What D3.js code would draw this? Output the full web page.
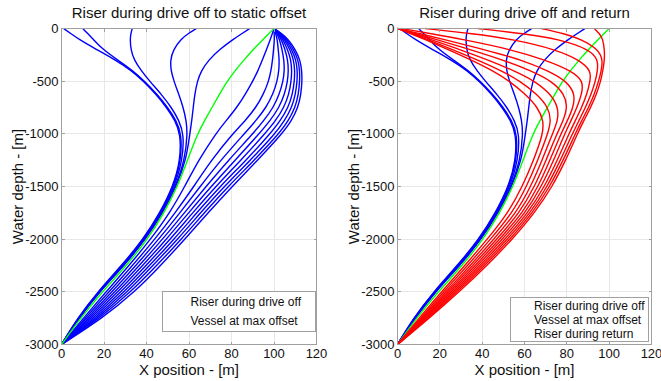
<!DOCTYPE html>
<html>
<head>
<meta charset="utf-8">
<script src="https://cdn.jsdelivr.net/npm/d3@7"></script>
<style>
  body { margin: 0; background: #fff; }
  svg { display: block; font-family: "Liberation Sans", Arial, sans-serif; }
  .grid line { stroke: #e8e8e8; stroke-width: 1; shape-rendering: crispEdges; }
  .frame { fill: none; stroke: #a0a0a0; stroke-width: 1; shape-rendering: crispEdges; }
  .tick-label { font-size: 13px; fill: #111; }
  .axis-title { font-size: 15px; fill: #111; }
  .plot-title { font-size: 15px; fill: #111; }
  .legend-text { font-size: 12px; fill: #111; }
</style>
</head>
<body>
<div id="chart"></div>
<script>
const depths = [0, -50, -100, -200, -300, -400, -500, -625, -750, -875, -1000, -1250, -1500, -1750, -2000, -2250, -2500, -2750, -3000];

// riser during drive off, early stages (vessel still moving)
const driveOffEarly = [
  [1, 4.5, 8, 16.5, 25.5, 33, 38.5, 44.5, 49.5, 53.5, 56, 56, 52.5, 46.3, 38.5, 28.3, 17, 7.5, 0],
  [10, 12.5, 14.8, 19.5, 26.5, 33.5, 39, 45, 50, 54, 56.5, 56.3, 52.8, 46.6, 38.8, 28.6, 17.2, 7.7, 0],
  [33.3, 32.6, 32.3, 32.6, 34.2, 37.5, 41.5, 47, 51.8, 55.3, 57.6, 57, 53.2, 46.9, 39.1, 28.9, 17.4, 7.9, 0],
  [63.5, 59.5, 56.2, 52.6, 51.2, 51.5, 52.9, 55.2, 57.3, 58.7, 59.3, 58, 53.7, 47.3, 39.4, 29.2, 17.6, 8.1, 0],
  [88.6, 84.8, 81, 74.3, 69.2, 65.8, 63.9, 62.7, 62, 61.3, 60.4, 58.6, 54.1, 47.6, 39.7, 29.5, 17.9, 8.3, 0]
];

// vessel reaching max offset
const vesselMaxOffset = [100, 97.5, 95, 90.2, 85.8, 81.7, 78, 74.3, 70.8, 67.3, 64, 59.3, 54.6, 48.3, 40.6, 30.6, 19.2, 9, 0];

// riser during drive off, vessel held at static offset
const driveOffStatic = [
  [100, 99.2, 98.3, 96.5, 94.5, 92.5, 90, 86.5, 82.5, 77.5, 72.5, 64.5, 58, 51, 42, 31.8, 21, 10.3, 0],
  [100, 100.1, 100.2, 99.8, 99.3, 98.6, 97.5, 95, 91.5, 86.5, 80.5, 70.5, 62.3, 53.5, 44, 33.4, 22.4, 11.2, 0],
  [100, 100.8, 101.5, 102, 102.5, 102.3, 101.5, 99.5, 96.3, 91.5, 86, 74.9, 65.3, 55.7, 45.8, 35, 23.8, 12.1, 0],
  [100, 101.3, 102.6, 103.8, 104.7, 104.9, 104.3, 102.5, 99.7, 95.2, 90, 78.6, 68, 57.8, 47.6, 36.6, 25.2, 13, 0],
  [100, 101.8, 103.4, 105.2, 106.5, 106.8, 106.4, 105, 102.4, 98.2, 93, 81.7, 70.4, 59.8, 49.4, 38.2, 26.6, 13.9, 0],
  [100, 102.2, 104.1, 106.4, 108, 108.4, 108.1, 107, 104.7, 100.8, 95.7, 84.4, 72.6, 61.7, 51.2, 39.8, 28.1, 14.9, 0],
  [100, 102.6, 104.8, 107.5, 109.3, 109.8, 109.6, 108.7, 106.7, 103, 98.2, 86.9, 74.6, 63.6, 53, 41.4, 29.6, 15.9, 0],
  [100, 103, 105.4, 108.4, 110.4, 111, 110.9, 110.1, 108.4, 105, 100.5, 88.9, 76.5, 65.4, 54.7, 43, 31.1, 16.9, 0],
  [100, 103.4, 106, 109.3, 111.4, 112.1, 112.1, 111.5, 110, 106.8, 102.3, 90.7, 78.4, 67.2, 56.4, 44.8, 32.7, 18, 0],
  [100, 103.8, 106.6, 110.1, 112.3, 113.1, 113.2, 112.7, 111.3, 108.3, 103.8, 92.3, 80.3, 69, 58, 46.7, 34.5, 19.3, 0]
];

// riser during return
const returnRiser = [
  [93, 95.5, 97, 97.8, 97.8, 97, 96, 94, 91.3, 88, 85, 79.5, 73.2, 64.8, 54.3, 42.3, 29.2, 15, 0],
  [68, 79, 86.5, 95, 97, 96.3, 95, 93, 90.3, 87, 84, 78.3, 72, 63.8, 53.2, 41.2, 28.2, 14.5, 0],
  [38, 60, 76, 91, 94.8, 94.5, 93.5, 91.5, 88.8, 85.7, 82.6, 77, 70.8, 62.8, 52, 40.1, 27.3, 14, 0],
  [13, 36, 54, 75, 86, 91.5, 91, 89.5, 87, 84, 81, 75.5, 69.5, 61.7, 50.8, 39, 26.4, 13.5, 0],
  [2, 16, 30, 54, 70, 82, 88, 87, 84.8, 82, 79, 73.8, 68, 60.5, 49.5, 37.9, 25.5, 13, 0],
  [0, 11, 21, 41, 59, 71, 80, 84, 83, 80.3, 77.2, 72, 66.5, 59.2, 48.2, 36.8, 24.6, 12.5, 0],
  [0, 9, 17.5, 34.5, 50, 63, 73, 79, 80.3, 78.3, 75.3, 70.2, 64.8, 57.7, 46.9, 35.6, 23.7, 12, 0],
  [0, 8, 15, 29.5, 43, 55, 65, 72.5, 76, 75.8, 73.2, 68.3, 63, 56.1, 45.5, 34.4, 22.8, 11.5, 0],
  [0, 7, 13.5, 26, 38, 49, 58, 66, 71.3, 72.6, 71, 66.3, 61, 54.3, 44, 33.1, 21.8, 10.9, 0],
  [0, 6.5, 12.5, 24, 35, 45, 53, 60.5, 66.3, 69, 68.8, 64.3, 59, 52.3, 42.5, 31.8, 20.8, 10.2, 0]
];

const xTicks = [0, 20, 40, 60, 80, 100, 120];
const yTicks = [0, -500, -1000, -1500, -2000, -2500, -3000];

const leftLegend = ["Riser during drive off", "Vessel at max offset"];
const rightLegend = ["Riser during drive off", "Vessel at max offset", "Riser during return"];

const W = 661, H = 381;
const svg = d3.select("#chart").append("svg")
  .attr("width", W).attr("height", H);

function drawPanel(opt) {
  const x = d3.scaleLinear().domain([0, 120]).range([opt.left, opt.right]);
  const y = d3.scaleLinear().domain([-3000, 0]).range([344.5, 28.5]);
  const g = svg.append("g");

  // grid
  const grid = g.append("g").attr("class", "grid");
  grid.selectAll(".gx").data(xTicks.slice(1, -1)).enter().append("line")
    .attr("x1", d => x(d)).attr("x2", d => x(d))
    .attr("y1", y(0)).attr("y2", y(-3000));
  grid.selectAll(".gy").data(yTicks.slice(1, -1)).enter().append("line")
    .attr("x1", x(0)).attr("x2", x(120))
    .attr("y1", d => y(d)).attr("y2", d => y(d));

  // curves
  const line = d3.line()
    .x(d => x(d[0]))
    .y(d => y(d[1]))
    .curve(d3.curveBasis);
  const toPts = arr => arr.map((v, i) => [v, depths[i]]);

  opt.series.forEach(s => {
    g.append("g").selectAll("path").data(s.data).enter().append("path")
      .attr("d", d => line(toPts(d)))
      .attr("fill", "none")
      .attr("stroke", s.color)
      .attr("stroke-width", 1.4);
  });

  // frame
  g.append("rect").attr("class", "frame")
    .attr("x", x(0)).attr("y", y(0))
    .attr("width", x(120) - x(0)).attr("height", y(-3000) - y(0));

  // inward ticks
  const tk = g.append("g").attr("stroke", "#a0a0a0").attr("shape-rendering", "crispEdges");
  xTicks.slice(1, -1).forEach(t => {
    tk.append("line").attr("x1", x(t)).attr("x2", x(t)).attr("y1", y(-3000)).attr("y2", y(-3000) - 3);
    tk.append("line").attr("x1", x(t)).attr("x2", x(t)).attr("y1", y(0)).attr("y2", y(0) + 3);
  });
  yTicks.slice(1, -1).forEach(t => {
    tk.append("line").attr("x1", x(0)).attr("x2", x(0) + 3).attr("y1", y(t)).attr("y2", y(t));
    tk.append("line").attr("x1", x(120)).attr("x2", x(120) - 3).attr("y1", y(t)).attr("y2", y(t));
  });

  // tick labels
  g.selectAll(".xl").data(xTicks).enter().append("text")
    .attr("class", "tick-label")
    .attr("x", d => x(d)).attr("y", 358)
    .attr("text-anchor", "middle")
    .text(d => d);
  g.selectAll(".yl").data(yTicks).enter().append("text")
    .attr("class", "tick-label")
    .attr("x", x(0) - 3).attr("y", d => y(d) + 4.5)
    .attr("text-anchor", "end")
    .text(d => d === 0 ? "0" : "-" + Math.abs(d));

  // titles
  g.append("text").attr("class", "plot-title")
    .attr("x", (x(0) + x(120)) / 2).attr("y", 18)
    .attr("text-anchor", "middle").text(opt.title);
  g.append("text").attr("class", "axis-title")
    .attr("x", (x(0) + x(120)) / 2).attr("y", 375)
    .attr("text-anchor", "middle").text("X position - [m]");
  g.append("text").attr("class", "axis-title")
    .attr("transform", `translate(${opt.yLabelX},${(y(0) + y(-3000)) / 2}) rotate(-90)`)
    .attr("text-anchor", "middle").text("Water depth - [m]");

  // legend (text only, as in the original)
  const lg = g.append("g");
  lg.append("rect")
    .attr("x", opt.legend.x).attr("y", opt.legend.y)
    .attr("width", opt.legend.w).attr("height", opt.legend.h)
    .attr("fill", "#fff").attr("stroke", "#a0a0a0")
    .attr("shape-rendering", "crispEdges");
  lg.selectAll("text").data(opt.legend.items).enter().append("text")
    .attr("class", "legend-text")
    .attr("x", opt.legend.tx)
    .attr("y", (d, i) => opt.legend.ty + i * opt.legend.dy)
    .text(d => d);
}

drawPanel({
  left: 61.5, right: 316.5, yLabelX: 23,
  title: "Riser during drive off to static offset",
  series: [
    { data: driveOffEarly, color: "#0000ff" },
    { data: driveOffStatic, color: "#0000ff" },
    { data: [vesselMaxOffset], color: "#00ff00" }
  ],
  legend: { x: 162.5, y: 291.5, w: 153, h: 40, tx: 190.5, ty: 306, dy: 19, items: leftLegend }
});

drawPanel({
  left: 397.5, right: 651.5, yLabelX: 359,
  title: "Riser during drive off and return",
  series: [
    { data: driveOffEarly, color: "#0000ff" },
    { data: [vesselMaxOffset], color: "#00ff00" },
    { data: returnRiser, color: "#ff0000" }
  ],
  legend: { x: 510.5, y: 297.5, w: 138, h: 44, tx: 534, ty: 310, dy: 14, items: rightLegend }
});
</script>
</body>
</html>
